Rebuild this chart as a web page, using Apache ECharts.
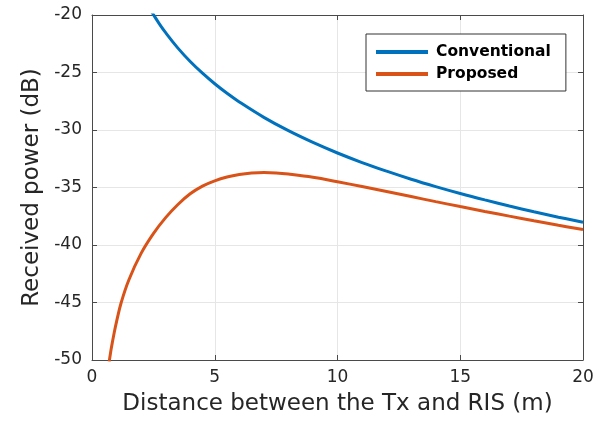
<!DOCTYPE html>
<html>
<head>
<meta charset="utf-8">
<script src="https://cdn.jsdelivr.net/npm/echarts@6/dist/echarts.min.js"></script>
<style>html,body{margin:0;padding:0;background:#fff}#c{width:610px;height:421px}</style>
</head>
<body>
<div id="c"></div>
<script>
const xTicks = [0, 5, 10, 15, 20];
const yTicks = [-50, -45, -40, -35, -30, -25, -20];

const convDist = [2.4, 2.5, 2.75, 3, 3.5, 4, 4.5, 5, 5.5, 6, 7, 8, 9, 10, 11, 12, 13, 14, 15, 16, 17, 18, 19, 20];
const convPower = [-19.60, -19.96, -20.79, -21.54, -22.88, -24.04, -25.06, -25.98, -26.81, -27.56, -28.90, -30.06, -31.08, -32.00, -32.83, -33.58, -34.28, -34.92, -35.52, -36.08, -36.61, -37.11, -37.58, -38.02];

const propDist = [0.7, 0.75, 0.8, 0.9, 1.0, 1.19, 1.5, 2.0, 2.5, 3.0, 3.5, 4.0, 4.5, 5.0, 5.5, 6.0, 6.5, 7.0, 7.5, 8.0, 9.0, 10, 11, 12, 13, 14, 15, 16, 17, 18, 19, 20];
const propPower = [-50.15, -49.45, -48.81, -47.67, -46.66, -45.0, -43.04, -40.73, -39.01, -37.62, -36.48, -35.55, -34.88, -34.42, -34.09, -33.87, -33.74, -33.69, -33.73, -33.83, -34.11, -34.5, -34.92, -35.35, -35.79, -36.23, -36.66, -37.08, -37.49, -37.89, -38.28, -38.66];

const seriesNames = ['Conventional', 'Proposed'];
const seriesColors = ['#0072BD', '#D95319'];

const font = 'DejaVu Sans';
const axisColor = '#4a4a4a';
const textColor = '#262626';

const chart = echarts.init(document.getElementById('c'), null, {renderer: 'canvas'});

function axisBase(extra) {
  return Object.assign({
    type: 'value',
    axisLine: {show: true, onZero: false, lineStyle: {color: axisColor, width: 1}},
    axisTick: {show: true, inside: true, length: 5, lineStyle: {color: axisColor}},
    splitLine: {show: false},
  }, extra);
}

chart.setOption({
  animation: false,
  backgroundColor: '#ffffff',
  grid: {left: 92, right: 27, top: 15, bottom: 61, containLabel: false},
  legend: {
    data: seriesNames,
    orient: 'vertical',
    left: 366,
    top: 34,
    padding: [9, 15, 8, 10],
    itemGap: 4,
    itemWidth: 52,
    itemHeight: 4,
    icon: 'rect',
    borderColor: '#333',
    borderWidth: 1,
    backgroundColor: '#fff',
    textStyle: {fontFamily: font, fontSize: 15.5, fontWeight: 'bold', color: '#000', lineHeight: 18, padding: [0, 0, 0, 3]}
  },
  xAxis: [
    axisBase({
      min: xTicks[0], max: xTicks[xTicks.length - 1], interval: 5,
      position: 'bottom',
      name: 'Distance between the Tx and RIS (m)',
      nameLocation: 'middle', nameGap: 33,
      nameTextStyle: {fontFamily: font, fontSize: 23, color: textColor},
      axisLabel: {fontFamily: font, fontSize: 17, color: textColor, margin: 9},
      splitLine: {show: true, lineStyle: {color: '#e6e6e6', width: 1}}
    }),
    axisBase({
      min: xTicks[0], max: xTicks[xTicks.length - 1], interval: 5,
      position: 'top',
      axisLabel: {show: false}
    })
  ],
  yAxis: [
    axisBase({
      min: yTicks[0], max: yTicks[yTicks.length - 1], interval: 5,
      position: 'left',
      name: 'Received power (dB)',
      nameLocation: 'middle', nameGap: 47,
      nameTextStyle: {fontFamily: font, fontSize: 23, color: textColor},
      axisLabel: {fontFamily: font, fontSize: 17, color: textColor, margin: 10},
      splitLine: {show: true, lineStyle: {color: '#e6e6e6', width: 1}}
    }),
    axisBase({
      min: yTicks[0], max: yTicks[yTicks.length - 1], interval: 5,
      position: 'right',
      axisLabel: {show: false}
    })
  ],
  series: [
    {
      name: seriesNames[0], type: 'line', xAxisIndex: 0, yAxisIndex: 0,
      data: convDist.map((d, i) => [d, convPower[i]]),
      showSymbol: false, smooth: 0.4, clip: true,
      lineStyle: {color: seriesColors[0], width: 3},
      itemStyle: {color: seriesColors[0]}
    },
    {
      name: seriesNames[1], type: 'line', xAxisIndex: 0, yAxisIndex: 0,
      data: propDist.map((d, i) => [d, propPower[i]]),
      showSymbol: false, smooth: 0.4, clip: true,
      lineStyle: {color: seriesColors[1], width: 3},
      itemStyle: {color: seriesColors[1]}
    }
  ]
});
</script>
</body>
</html>
